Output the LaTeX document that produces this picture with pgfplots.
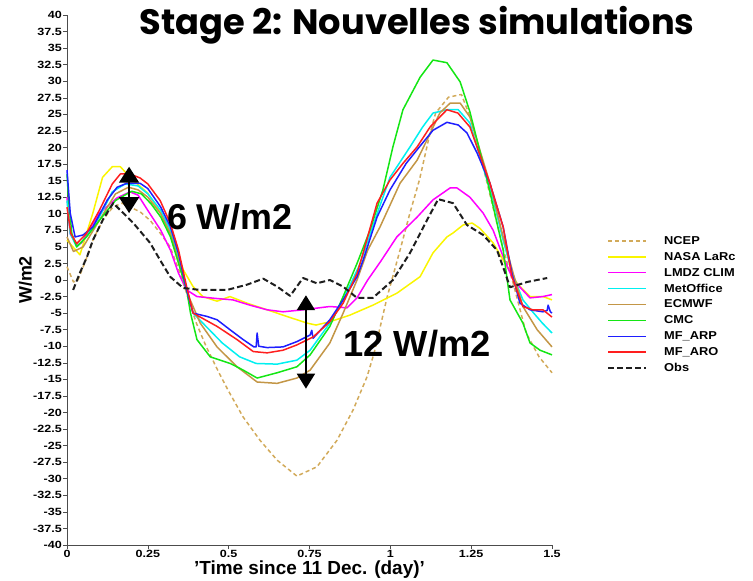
\documentclass[border=0pt]{standalone}
\usepackage{fontspec}
\setmainfont{Liberation Sans}
\newfontfamily\chartfont{Liberation Sans}[FakeStretch=1.2]
\newfontfamily\legendfont{Liberation Sans}[FakeStretch=1.12]
\newfontfamily\titlefont{Poppins}
\usepackage{pgfplots}
\pgfplotsset{compat=1.18}
\usetikzlibrary{arrows.meta}

\definecolor{cNCEP}{RGB}{210,170,90}
\definecolor{cNASA}{RGB}{250,245,0}
\definecolor{cLMDZ}{RGB}{255,0,255}
\definecolor{cMet}{RGB}{0,240,240}
\definecolor{cECM}{RGB}{195,150,70}
\definecolor{cCMC}{RGB}{20,230,20}
\definecolor{cARP}{RGB}{30,30,255}
\definecolor{cARO}{RGB}{255,30,30}
\definecolor{cObs}{RGB}{30,30,30}

\begin{document}
\begin{tikzpicture}
\path[use as bounding box] (-67bp,-36bp) rectangle (686bp,545bp);
\begin{axis}[
  at={(0,0)}, anchor=south west,
  scale only axis, width=485bp, height=530bp,
  xmin=0, xmax=1.5, ymin=-40, ymax=40,
  axis lines=left,
  axis line style={-, draw=black!70, line width=0.8bp},
  xtick distance=0.25, ytick distance=2.5,
  tick align=outside, major tick length=4bp,
  tick style={draw=black!70, line width=0.6bp},
  /pgf/number format/assume math mode=true,
  ticklabel style={font=\chartfont\bfseries\fontsize{10.5}{10.5}\selectfont},
  yticklabel style={inner sep=1bp},
  xticklabel style={inner sep=1bp},
  xlabel={'Time since 11 Dec. (day)'},
  xlabel style={font=\bfseries\fontsize{19}{19}\selectfont, inner sep=0pt, yshift=-2bp},
  ylabel={W/m2},
  ylabel style={font=\bfseries\fontsize{18}{18}\selectfont, inner sep=0pt},
  clip=false,
  every axis plot/.append style={line width=1.5bp, line join=round},
  legend image code/.code={\draw[#1] (0bp,0bp) -- (38bp,0bp);},
  legend cell align=left,
  legend style={draw=none, fill=none, at={(1.1134,0.4538)}, anchor=west,
    inner sep=0pt, column sep=17bp, row sep=5.9bp,
    font=\legendfont\bfseries\fontsize{11.5}{11.5}\selectfont,
    nodes={inner sep=0pt, text height=8.5bp, text depth=1.5bp}},
]
% NCEP reanalysis
\addplot[cNCEP, dash pattern=on 4bp off 3bp] coordinates {
(0,2.0)(0.02,-0.3)(0.034,0.0)(0.062,3.5)(0.08,6.0)(0.111,9.1)(0.142,11.0)(0.17,11.6)
(0.195,11.0)(0.226,10.3)(0.257,9.0)(0.288,7.1)(0.319,5.0)(0.35,1.0)(0.37,-2.0)(0.40,-6.5)
(0.43,-10.0)(0.47,-14.0)(0.50,-16.8)(0.545,-20.7)(0.597,-24.2)(0.65,-27.2)(0.711,-29.6)
(0.773,-28.2)(0.835,-24.2)(0.885,-19.6)(0.928,-14.6)(0.95,-11.0)(0.99,-2.6)(1.03,4.5)
(1.06,10.0)(1.09,15.1)(1.12,21.6)(1.14,25.2)(1.18,27.6)(1.22,28.0)(1.25,24.2)(1.30,14.5)
(1.35,4.5)(1.38,-0.5)(1.42,-8.0)(1.46,-11.6)(1.50,-14.0)};
\addlegendentry{NCEP}
% NASA LaRc
\addplot[cNASA] coordinates {
(0,6.0)(0.04,3.8)(0.08,10.1)(0.11,15.5)(0.14,17.1)(0.165,17.1)(0.195,15.5)(0.25,13.1)
(0.29,10.1)(0.32,7.0)(0.34,4.0)(0.36,1.5)(0.39,-1.0)(0.42,-2.5)(0.464,-3.2)(0.504,-2.5)
(0.557,-3.5)(0.619,-4.5)(0.68,-5.5)(0.742,-6.5)(0.77,-6.8)(0.813,-6.3)(0.875,-5.3)
(0.946,-3.8)(1.02,-2.0)(1.092,0.5)(1.132,4.1)(1.175,6.5)(1.194,7.1)(1.225,8.3)(1.253,8.6)
(1.277,7.8)(1.318,5.6)(1.349,3.0)(1.392,-0.5)(1.432,-2.5)(1.472,-2.5)(1.5,-3.0)};
\addlegendentry{NASA LaRc}
% LMDZ CLIM
\addplot[cLMDZ] coordinates {
(0,12.5)(0.01,7.0)(0.03,5.2)(0.045,5.6)(0.1,10.1)(0.155,12.4)(0.195,13.3)(0.22,12.8)
(0.25,10.5)(0.29,7.5)(0.32,4.5)(0.345,1.0)(0.37,-1.5)(0.402,-2.5)(0.464,-2.8)(0.513,-3.0)
(0.566,-3.8)(0.619,-4.5)(0.668,-4.8)(0.73,-4.5)(0.813,-4.0)(0.866,-4.2)(0.897,-2.7)
(0.93,0.0)(0.97,2.8)(1.02,6.5)(1.083,9.5)(1.132,12.1)(1.185,13.9)(1.206,13.9)(1.246,12.5)
(1.287,10.1)(1.318,7.5)(1.349,3.5)(1.38,0.0)(1.432,-2.7)(1.472,-2.5)(1.5,-2.2)};
\addlegendentry{LMDZ CLIM}
% MetOffice
\addplot[cMet] coordinates {
(0,12.0)(0.01,7.0)(0.03,5.0)(0.06,6.5)(0.1,9.5)(0.14,13.3)(0.18,14.5)(0.22,14.2)(0.25,13.0)
(0.29,10.5)(0.32,7.5)(0.345,3.5)(0.37,-1.5)(0.39,-5.0)(0.43,-7.0)(0.48,-9.5)(0.534,-11.6)
(0.585,-12.6)(0.65,-12.7)(0.711,-12.1)(0.752,-10.6)(0.813,-6.5)(0.854,-3.0)(0.907,2.5)
(0.959,10.0)(0.999,15.5)(1.061,20.1)(1.1,23.1)(1.132,25.2)(1.175,25.7)(1.21,25.7)
(1.246,23.7)(1.277,18.6)(1.318,12.1)(1.349,6.0)(1.377,1.0)(1.41,-3.0)(1.44,-4.8)
(1.47,-6.5)(1.5,-8.0)};
\addlegendentry{MetOffice}
% ECMWF
\addplot[cECM] coordinates {
(0,6.5)(0.02,4.3)(0.05,5.0)(0.1,9.0)(0.15,13.0)(0.19,14.0)(0.22,13.6)(0.25,12.5)(0.29,10.0)
(0.32,7.0)(0.345,3.0)(0.37,-1.5)(0.381,-3.0)(0.412,-6.5)(0.464,-10.1)(0.526,-13.1)
(0.588,-15.4)(0.65,-15.6)(0.711,-14.8)(0.752,-13.6)(0.813,-9.5)(0.854,-5.0)(0.897,0.0)
(0.93,4.5)(0.968,8.0)(1.03,14.6)(1.083,18.1)(1.113,21.1)(1.153,25.2)(1.185,26.7)
(1.216,26.7)(1.246,24.6)(1.308,14.6)(1.349,6.5)(1.38,1.0)(1.41,-4.0)(1.454,-7.5)(1.5,-10.1)};
\addlegendentry{ECMWF}
% CMC
\addplot[cCMC] coordinates {
(0,16.0)(0.005,12.0)(0.015,7.0)(0.03,5.0)(0.06,6.5)(0.1,9.0)(0.15,12.0)(0.2,13.4)(0.23,13.0)
(0.26,11.5)(0.29,9.5)(0.32,6.5)(0.345,2.5)(0.37,-1.5)(0.382,-5.0)(0.402,-9.0)(0.443,-11.6)
(0.505,-12.6)(0.545,-13.6)(0.588,-14.8)(0.65,-14.0)(0.711,-13.1)(0.752,-11.3)(0.813,-7.0)
(0.854,-2.5)(0.897,2.5)(0.937,7.5)(0.977,13.6)(1.008,20.1)(1.039,25.7)(1.092,30.6)
(1.132,33.2)(1.175,32.8)(1.216,29.9)(1.246,25.4)(1.3,15.0)(1.349,4.5)(1.37,-3.0)
(1.41,-6.5)(1.432,-9.5)(1.463,-10.6)(1.5,-11.3)};
\addlegendentry{CMC}
% MF_ARP
\addplot[cARP] coordinates {
(0,16.6)(0.01,10.1)(0.025,6.5)(0.05,6.8)(0.08,8.0)(0.125,12.1)(0.155,14.0)(0.185,14.6)
(0.226,14.6)(0.25,13.8)(0.29,11.0)(0.32,8.0)(0.345,4.0)(0.37,-1.5)(0.39,-5.0)(0.433,-5.5)
(0.464,-6.0)(0.504,-7.5)(0.545,-9.0)(0.578,-10.1)(0.585,-10.1)(0.588,-8.0)(0.593,-10.0)
(0.619,-10.2)(0.668,-10.1)(0.711,-9.3)(0.752,-8.3)(0.757,-7.6)(0.761,-8.8)(0.813,-6.0)
(0.854,-3.0)(0.897,0.5)(0.916,3.0)(0.959,9.5)(0.999,13.6)(1.049,17.6)(1.09,20.1)
(1.132,22.6)(1.175,23.8)(1.21,23.4)(1.237,22.2)(1.268,19.2)(1.308,14.6)(1.349,8.0)
(1.376,1.0)(1.401,-3.5)(1.432,-4.5)(1.472,-4.8)(1.485,-4.6)(1.488,-3.8)(1.495,-4.8)(1.5,-5.0)};
\addlegendentry{MF\_ARP}
% MF_ARO
\addplot[cARO] coordinates {
(0,11.0)(0.012,7.0)(0.03,5.5)(0.06,7.0)(0.1,10.5)(0.14,14.5)(0.165,16.0)(0.195,16.0)
(0.226,15.4)(0.25,14.5)(0.288,12.0)(0.32,8.5)(0.345,4.5)(0.37,-1.0)(0.39,-5.0)(0.464,-7.0)
(0.526,-9.0)(0.576,-10.8)(0.619,-11.0)(0.668,-10.6)(0.711,-9.8)(0.761,-8.6)(0.813,-6.3)
(0.854,-3.5)(0.897,1.0)(0.916,4.1)(0.959,11.6)(0.999,15.1)(1.039,17.6)(1.083,20.1)
(1.123,23.1)(1.175,25.7)(1.209,25.2)(1.246,23.1)(1.268,20.1)(1.308,14.6)(1.349,8.0)
(1.376,0.5)(1.41,-4.0)(1.44,-4.5)(1.472,-4.5)(1.5,-5.6)};
\addlegendentry{MF\_ARO}
% Observations
\addplot[cObs, line width=2bp, dash pattern=on 6bp off 3bp] coordinates {
(0.019,-1.5)(0.04,1.1)(0.062,3.5)(0.08,6.0)(0.111,9.1)(0.143,11.6)(0.205,8.6)(0.257,5.6)
(0.288,3.0)(0.319,0.5)(0.359,-1.2)(0.411,-1.5)(0.495,-1.5)(0.557,-0.7)(0.607,0.2)(0.65,-1.0)
(0.69,-2.4)(0.73,0.3)(0.773,-0.5)(0.813,0.0)(0.854,-1.0)(0.897,-2.7)(0.946,-2.7)(1.008,0.0)
(1.061,4.1)(1.114,9.1)(1.148,12.2)(1.194,11.6)(1.237,8.3)(1.287,6.8)(1.33,4.5)(1.355,1.1)
(1.37,-1.1)(1.423,-0.3)(1.485,0.3)};
\addlegendentry{Obs}

% spread annotations
\draw[line width=2bp, {Triangle[width=20bp,length=16bp]}-{Triangle[width=20bp,length=16bp]}]
  (axis cs:0.192,17.1) -- (axis cs:0.192,10.1);
\draw[line width=2bp, {Triangle[width=18bp,length=15bp]}-{Triangle[width=18bp,length=15bp]}]
  (axis cs:0.739,-2.3) -- (axis cs:0.739,-16.4);
\node[anchor=base west, inner sep=0pt, font=\bfseries\fontsize{36}{36}\selectfont]
  at (axis cs:0.309,7.55) {6 W/m2};
\node[anchor=base west, inner sep=0pt, font=\bfseries\fontsize{36.5}{36.5}\selectfont]
  at (axis cs:0.854,-11.6) {12 W/m2};
\end{axis}
\node[inner sep=0pt] at (350bp,520bp)
  {\resizebox{555bp}{!}{\titlefont\bfseries Stage 2: Nouvelles simulations}};
\end{tikzpicture}
\end{document}
